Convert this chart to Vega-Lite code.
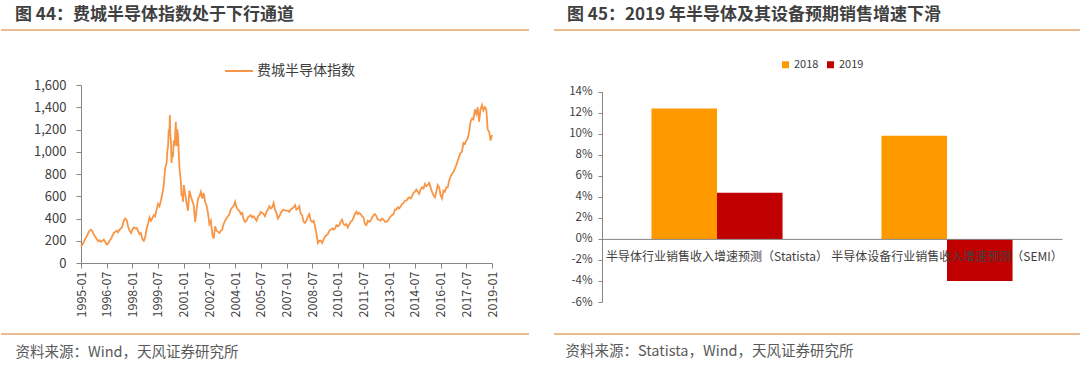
{
  "$schema": "https://vega.github.io/schema/vega-lite/v6.json",
  "background": "white",
  "padding": {"top": 4, "left": 0, "right": 0, "bottom": 0},
  "spacing": 25,
  "bounds": "flush",
  "resolve": {"scale": {"color": "independent"}, "legend": {"color": "independent"}},
  "config": {"font": "Noto Sans CJK SC"},
  "hconcat": [
    {
      "width": 528,
      "height": 304,
      "view": {"stroke": "#E9A46C", "strokeWidth": 1.5, "strokeDash": [528, 304]},
      "title": {"text": "图 44：费城半导体指数处于下行通道", "anchor": "start", "frame": "group", "dx": 14, "offset": -10.5, "baseline": "bottom", "fontSize": 17, "fontWeight": "bold", "color": "#404040"},
      "data": {"values": [
        {"d": "1995-01-01", "v": 150}, {"d": "1995-02-01", "v": 165}, {"d": "1995-03-01", "v": 190}, {"d": "1995-04-01", "v": 215}, {"d": "1995-05-01", "v": 240}, {"d": "1995-06-01", "v": 265}, {"d": "1995-07-01", "v": 290}, {"d": "1995-08-01", "v": 300}, {"d": "1995-09-01", "v": 285}, {"d": "1995-10-01", "v": 255}, {"d": "1995-11-01", "v": 235}, {"d": "1995-12-01", "v": 215},
        {"d": "1996-01-01", "v": 195}, {"d": "1996-02-01", "v": 205}, {"d": "1996-03-01", "v": 190}, {"d": "1996-04-01", "v": 200}, {"d": "1996-05-01", "v": 210}, {"d": "1996-06-01", "v": 190}, {"d": "1996-07-01", "v": 165}, {"d": "1996-08-01", "v": 175}, {"d": "1996-09-01", "v": 200}, {"d": "1996-10-01", "v": 215}, {"d": "1996-11-01", "v": 245}, {"d": "1996-12-01", "v": 270},
        {"d": "1997-01-01", "v": 280}, {"d": "1997-02-01", "v": 290}, {"d": "1997-03-01", "v": 275}, {"d": "1997-04-01", "v": 300}, {"d": "1997-05-01", "v": 310}, {"d": "1997-06-01", "v": 330}, {"d": "1997-07-01", "v": 380}, {"d": "1997-08-01", "v": 400}, {"d": "1997-09-01", "v": 385}, {"d": "1997-10-01", "v": 330}, {"d": "1997-11-01", "v": 290}, {"d": "1997-12-01", "v": 270},
        {"d": "1998-01-01", "v": 300}, {"d": "1998-02-01", "v": 320}, {"d": "1998-03-01", "v": 310}, {"d": "1998-04-01", "v": 315}, {"d": "1998-05-01", "v": 290}, {"d": "1998-06-01", "v": 260}, {"d": "1998-07-01", "v": 270}, {"d": "1998-08-01", "v": 215}, {"d": "1998-09-01", "v": 200}, {"d": "1998-10-01", "v": 230}, {"d": "1998-11-01", "v": 310}, {"d": "1998-12-01", "v": 350},
        {"d": "1999-01-01", "v": 410}, {"d": "1999-02-01", "v": 380}, {"d": "1999-03-01", "v": 400}, {"d": "1999-04-01", "v": 430}, {"d": "1999-05-01", "v": 420}, {"d": "1999-06-01", "v": 480}, {"d": "1999-07-01", "v": 530}, {"d": "1999-08-01", "v": 510}, {"d": "1999-09-01", "v": 560}, {"d": "1999-10-01", "v": 620}, {"d": "1999-11-01", "v": 700}, {"d": "1999-12-01", "v": 850},
        {"d": "2000-01-01", "v": 900}, {"d": "2000-01-15", "v": 1000}, {"d": "2000-02-01", "v": 1050}, {"d": "2000-02-15", "v": 1200}, {"d": "2000-03-01", "v": 1180}, {"d": "2000-03-10", "v": 1330}, {"d": "2000-03-20", "v": 1150}, {"d": "2000-04-01", "v": 1100}, {"d": "2000-04-15", "v": 900}, {"d": "2000-05-01", "v": 1000}, {"d": "2000-05-15", "v": 950}, {"d": "2000-06-01", "v": 1100}, {"d": "2000-06-15", "v": 1050}, {"d": "2000-07-01", "v": 1150}, {"d": "2000-07-15", "v": 1270}, {"d": "2000-08-01", "v": 1050}, {"d": "2000-08-15", "v": 1200}, {"d": "2000-09-01", "v": 1150}, {"d": "2000-09-15", "v": 1000}, {"d": "2000-10-01", "v": 850}, {"d": "2000-10-15", "v": 800}, {"d": "2000-11-01", "v": 720}, {"d": "2000-11-15", "v": 600}, {"d": "2000-12-01", "v": 620}, {"d": "2000-12-15", "v": 550},
        {"d": "2001-01-01", "v": 700}, {"d": "2001-02-01", "v": 620}, {"d": "2001-03-01", "v": 540}, {"d": "2001-04-01", "v": 470}, {"d": "2001-05-01", "v": 650}, {"d": "2001-06-01", "v": 600}, {"d": "2001-07-01", "v": 560}, {"d": "2001-08-01", "v": 520}, {"d": "2001-09-01", "v": 370}, {"d": "2001-10-01", "v": 480}, {"d": "2001-11-01", "v": 580}, {"d": "2001-12-01", "v": 600},
        {"d": "2002-01-01", "v": 640}, {"d": "2002-02-01", "v": 580}, {"d": "2002-03-01", "v": 630}, {"d": "2002-04-01", "v": 550}, {"d": "2002-05-01", "v": 520}, {"d": "2002-06-01", "v": 450}, {"d": "2002-07-01", "v": 350}, {"d": "2002-08-01", "v": 380}, {"d": "2002-09-01", "v": 260}, {"d": "2002-10-01", "v": 220}, {"d": "2002-11-01", "v": 330}, {"d": "2002-12-01", "v": 290},
        {"d": "2003-01-01", "v": 280}, {"d": "2003-02-01", "v": 270}, {"d": "2003-03-01", "v": 290}, {"d": "2003-04-01", "v": 300}, {"d": "2003-05-01", "v": 350}, {"d": "2003-06-01", "v": 380}, {"d": "2003-07-01", "v": 400}, {"d": "2003-08-01", "v": 420}, {"d": "2003-09-01", "v": 440}, {"d": "2003-10-01", "v": 480}, {"d": "2003-11-01", "v": 500}, {"d": "2003-12-01", "v": 510},
        {"d": "2004-01-01", "v": 550}, {"d": "2004-02-01", "v": 500}, {"d": "2004-03-01", "v": 480}, {"d": "2004-04-01", "v": 470}, {"d": "2004-05-01", "v": 440}, {"d": "2004-06-01", "v": 450}, {"d": "2004-07-01", "v": 390}, {"d": "2004-08-01", "v": 370}, {"d": "2004-09-01", "v": 380}, {"d": "2004-10-01", "v": 410}, {"d": "2004-11-01", "v": 420}, {"d": "2004-12-01", "v": 430},
        {"d": "2005-01-01", "v": 410}, {"d": "2005-02-01", "v": 420}, {"d": "2005-03-01", "v": 400}, {"d": "2005-04-01", "v": 380}, {"d": "2005-05-01", "v": 420}, {"d": "2005-06-01", "v": 430}, {"d": "2005-07-01", "v": 460}, {"d": "2005-08-01", "v": 450}, {"d": "2005-09-01", "v": 440}, {"d": "2005-10-01", "v": 420}, {"d": "2005-11-01", "v": 460}, {"d": "2005-12-01", "v": 480},
        {"d": "2006-01-01", "v": 510}, {"d": "2006-02-01", "v": 490}, {"d": "2006-03-01", "v": 500}, {"d": "2006-04-01", "v": 540}, {"d": "2006-05-01", "v": 480}, {"d": "2006-06-01", "v": 450}, {"d": "2006-07-01", "v": 400}, {"d": "2006-08-01", "v": 420}, {"d": "2006-09-01", "v": 450}, {"d": "2006-10-01", "v": 470}, {"d": "2006-11-01", "v": 480}, {"d": "2006-12-01", "v": 470},
        {"d": "2007-01-01", "v": 470}, {"d": "2007-02-01", "v": 470}, {"d": "2007-03-01", "v": 460}, {"d": "2007-04-01", "v": 480}, {"d": "2007-05-01", "v": 490}, {"d": "2007-06-01", "v": 500}, {"d": "2007-07-01", "v": 520}, {"d": "2007-08-01", "v": 480}, {"d": "2007-09-01", "v": 490}, {"d": "2007-10-01", "v": 510}, {"d": "2007-11-01", "v": 440}, {"d": "2007-12-01", "v": 430},
        {"d": "2008-01-01", "v": 370}, {"d": "2008-02-01", "v": 360}, {"d": "2008-03-01", "v": 380}, {"d": "2008-04-01", "v": 420}, {"d": "2008-05-01", "v": 440}, {"d": "2008-06-01", "v": 380}, {"d": "2008-07-01", "v": 370}, {"d": "2008-08-01", "v": 380}, {"d": "2008-09-01", "v": 330}, {"d": "2008-10-01", "v": 260}, {"d": "2008-11-01", "v": 180}, {"d": "2008-12-01", "v": 200},
        {"d": "2009-01-01", "v": 200}, {"d": "2009-02-01", "v": 180}, {"d": "2009-03-01", "v": 210}, {"d": "2009-04-01", "v": 240}, {"d": "2009-05-01", "v": 250}, {"d": "2009-06-01", "v": 260}, {"d": "2009-07-01", "v": 290}, {"d": "2009-08-01", "v": 300}, {"d": "2009-09-01", "v": 310}, {"d": "2009-10-01", "v": 300}, {"d": "2009-11-01", "v": 310}, {"d": "2009-12-01", "v": 340},
        {"d": "2010-01-01", "v": 330}, {"d": "2010-02-01", "v": 340}, {"d": "2010-03-01", "v": 370}, {"d": "2010-04-01", "v": 390}, {"d": "2010-05-01", "v": 350}, {"d": "2010-06-01", "v": 340}, {"d": "2010-07-01", "v": 350}, {"d": "2010-08-01", "v": 320}, {"d": "2010-09-01", "v": 350}, {"d": "2010-10-01", "v": 370}, {"d": "2010-11-01", "v": 380}, {"d": "2010-12-01", "v": 410},
        {"d": "2011-01-01", "v": 440}, {"d": "2011-02-01", "v": 460}, {"d": "2011-03-01", "v": 440}, {"d": "2011-04-01", "v": 450}, {"d": "2011-05-01", "v": 440}, {"d": "2011-06-01", "v": 420}, {"d": "2011-07-01", "v": 410}, {"d": "2011-08-01", "v": 350}, {"d": "2011-09-01", "v": 340}, {"d": "2011-10-01", "v": 380}, {"d": "2011-11-01", "v": 370}, {"d": "2011-12-01", "v": 380},
        {"d": "2012-01-01", "v": 410}, {"d": "2012-02-01", "v": 430}, {"d": "2012-03-01", "v": 440}, {"d": "2012-04-01", "v": 420}, {"d": "2012-05-01", "v": 390}, {"d": "2012-06-01", "v": 390}, {"d": "2012-07-01", "v": 380}, {"d": "2012-08-01", "v": 400}, {"d": "2012-09-01", "v": 390}, {"d": "2012-10-01", "v": 370}, {"d": "2012-11-01", "v": 370}, {"d": "2012-12-01", "v": 380},
        {"d": "2013-01-01", "v": 400}, {"d": "2013-02-01", "v": 420}, {"d": "2013-03-01", "v": 430}, {"d": "2013-04-01", "v": 440}, {"d": "2013-05-01", "v": 480}, {"d": "2013-06-01", "v": 480}, {"d": "2013-07-01", "v": 500}, {"d": "2013-08-01", "v": 490}, {"d": "2013-09-01", "v": 510}, {"d": "2013-10-01", "v": 530}, {"d": "2013-11-01", "v": 540}, {"d": "2013-12-01", "v": 560},
        {"d": "2014-01-01", "v": 560}, {"d": "2014-02-01", "v": 580}, {"d": "2014-03-01", "v": 590}, {"d": "2014-04-01", "v": 580}, {"d": "2014-05-01", "v": 600}, {"d": "2014-06-01", "v": 630}, {"d": "2014-07-01", "v": 640}, {"d": "2014-08-01", "v": 660}, {"d": "2014-09-01", "v": 640}, {"d": "2014-10-01", "v": 620}, {"d": "2014-11-01", "v": 660}, {"d": "2014-12-01", "v": 680},
        {"d": "2015-01-01", "v": 670}, {"d": "2015-02-01", "v": 710}, {"d": "2015-03-01", "v": 690}, {"d": "2015-04-01", "v": 700}, {"d": "2015-05-01", "v": 720}, {"d": "2015-06-01", "v": 680}, {"d": "2015-07-01", "v": 640}, {"d": "2015-08-01", "v": 610}, {"d": "2015-09-01", "v": 590}, {"d": "2015-10-01", "v": 640}, {"d": "2015-11-01", "v": 700}, {"d": "2015-12-01", "v": 680},
        {"d": "2016-01-01", "v": 610}, {"d": "2016-02-01", "v": 580}, {"d": "2016-03-01", "v": 650}, {"d": "2016-04-01", "v": 640}, {"d": "2016-05-01", "v": 680}, {"d": "2016-06-01", "v": 680}, {"d": "2016-07-01", "v": 740}, {"d": "2016-08-01", "v": 780}, {"d": "2016-09-01", "v": 800}, {"d": "2016-10-01", "v": 820}, {"d": "2016-11-01", "v": 850}, {"d": "2016-12-01", "v": 880},
        {"d": "2017-01-01", "v": 920}, {"d": "2017-02-01", "v": 960}, {"d": "2017-03-01", "v": 990}, {"d": "2017-04-01", "v": 1000}, {"d": "2017-05-01", "v": 1080}, {"d": "2017-06-01", "v": 1070}, {"d": "2017-07-01", "v": 1100}, {"d": "2017-08-01", "v": 1120}, {"d": "2017-09-01", "v": 1180}, {"d": "2017-10-01", "v": 1270}, {"d": "2017-11-01", "v": 1300}, {"d": "2017-12-01", "v": 1290},
        {"d": "2018-01-01", "v": 1380}, {"d": "2018-02-01", "v": 1340}, {"d": "2018-03-01", "v": 1400}, {"d": "2018-04-01", "v": 1270}, {"d": "2018-05-01", "v": 1380}, {"d": "2018-06-01", "v": 1420}, {"d": "2018-07-01", "v": 1370}, {"d": "2018-08-01", "v": 1400}, {"d": "2018-09-01", "v": 1380}, {"d": "2018-10-01", "v": 1200}, {"d": "2018-11-01", "v": 1180}, {"d": "2018-12-01", "v": 1100},
        {"d": "2019-01-01", "v": 1150}
      ]},
      "mark": {"type": "line", "strokeWidth": 1.8},
      "encoding": {
        "x": {
          "field": "d", "type": "temporal",
          "scale": {"type": "utc", "nice": false, "range": [80, 491],
            "domain": [{"year": 1995, "month": 1, "date": 1, "utc": true}, {"year": 2019, "month": 1, "date": 1, "utc": true}]},
          "axis": {
            "values": [
              {"year": 1995, "month": 1, "date": 1, "utc": true}, {"year": 1996, "month": 7, "date": 1, "utc": true},
              {"year": 1998, "month": 1, "date": 1, "utc": true}, {"year": 1999, "month": 7, "date": 1, "utc": true},
              {"year": 2001, "month": 1, "date": 1, "utc": true}, {"year": 2002, "month": 7, "date": 1, "utc": true},
              {"year": 2004, "month": 1, "date": 1, "utc": true}, {"year": 2005, "month": 7, "date": 1, "utc": true},
              {"year": 2007, "month": 1, "date": 1, "utc": true}, {"year": 2008, "month": 7, "date": 1, "utc": true},
              {"year": 2010, "month": 1, "date": 1, "utc": true}, {"year": 2011, "month": 7, "date": 1, "utc": true},
              {"year": 2013, "month": 1, "date": 1, "utc": true}, {"year": 2014, "month": 7, "date": 1, "utc": true},
              {"year": 2016, "month": 1, "date": 1, "utc": true}, {"year": 2017, "month": 7, "date": 1, "utc": true},
              {"year": 2019, "month": 1, "date": 1, "utc": true}
            ],
            "labelExpr": "utcFormat(datum.value, '%Y-%m')",
            "labelAngle": 270, "labelFontSize": 12.5, "labelColor": "#404040", "labelPadding": 3,
            "offset": -71, "grid": false, "domainColor": "#868686", "tickColor": "#868686", "tickSize": 5,
            "labelOverlap": false, "labelFlush": false,
            "title": "资料来源：Wind，天风证券研究所",
            "titleX": 14, "titleY": 89, "titleAlign": "left", "titleBaseline": "middle", "titleAngle": 0,
            "titleFontSize": 14.5, "titleFontWeight": "normal", "titleColor": "#595959"
          }
        },
        "y": {
          "field": "v", "type": "quantitative",
          "scale": {"domain": [0, 1600], "range": [233, 55], "nice": false},
          "axis": {
            "values": [0, 200, 400, 600, 800, 1000, 1200, 1400, 1600], "format": ",d",
            "offset": -80, "grid": false, "domainColor": "#868686", "tickColor": "#868686", "tickSize": 5,
            "labelPadding": 10, "labelFontSize": 13, "labelColor": "#404040", "title": null
          }
        },
        "color": {
          "datum": "费城半导体指数",
          "scale": {"range": ["#F79646"]},
          "legend": {"orient": "none", "legendX": 223, "legendY": 26, "title": null, "padding": 0,
            "symbolType": "stroke", "symbolSize": 784, "symbolStrokeWidth": 2,
            "labelFontSize": 14, "labelColor": "#404040", "labelOffset": 3}
        }
      }
    },
    {
      "width": 527,
      "height": 304,
      "view": {"stroke": "#E9A46C", "strokeWidth": 1.5, "strokeDash": [527, 304]},
      "title": {"text": "图 45：2019 年半导体及其设备预期销售增速下滑", "anchor": "start", "frame": "group", "dx": 13, "offset": -10.5, "baseline": "bottom", "fontSize": 17, "fontWeight": "bold", "color": "#404040"},
      "data": {"values": [
        {"c": "半导体行业销售收入增速预测（Statista）", "y": "2018", "v": 0.124},
        {"c": "半导体行业销售收入增速预测（Statista）", "y": "2019", "v": 0.044},
        {"c": "半导体设备行业销售收入增速预测（SEMI）", "y": "2018", "v": 0.098},
        {"c": "半导体设备行业销售收入增速预测（SEMI）", "y": "2019", "v": -0.040}
      ]},
      "mark": {"type": "bar"},
      "encoding": {
        "x": {
          "field": "c", "type": "nominal", "sort": null,
          "scale": {"range": [48, 508], "paddingInner": 0.43, "paddingOuter": 0.215},
          "axis": {
            "offset": -95.1, "domainColor": "#868686", "ticks": false, "tickSize": 0,
            "labelAngle": 0, "labelPadding": 18, "labelBaseline": "middle", "labelFontSize": 12,
            "labelColor": "#404040", "labelLimit": 0, "zindex": 1,
            "title": "资料来源：Statista，Wind，天风证券研究所",
            "titleX": 11, "titleY": 113, "titleAlign": "left", "titleBaseline": "middle", "titleAngle": 0,
            "titleFontSize": 14.5, "titleFontWeight": "normal", "titleColor": "#595959"
          }
        },
        "xOffset": {"field": "y", "type": "nominal", "scale": {"paddingInner": 0, "paddingOuter": 0}},
        "y": {
          "field": "v", "type": "quantitative",
          "scale": {"domain": [-0.06, 0.14], "range": [272, 61.7], "nice": false, "zero": false},
          "axis": {
            "values": [-0.06, -0.04, -0.02, 0, 0.02, 0.04, 0.06, 0.08, 0.1, 0.12, 0.14],
            "format": ".0%", "labelExpr": "replace(datum.label, '−', '-')",
            "offset": -48, "grid": false, "domainColor": "#868686", "tickColor": "#868686", "tickSize": 4,
            "labelPadding": 6, "labelFontSize": 11.5, "labelColor": "#404040", "title": null
          }
        },
        "color": {
          "field": "y", "type": "nominal",
          "scale": {"range": ["#FF9900", "#C00000"]},
          "legend": {"orient": "none", "direction": "horizontal", "legendX": 226, "legendY": 29, "title": null, "padding": 0,
            "symbolType": "square", "symbolSize": 49, "symbolStrokeWidth": 0,
            "labelFontSize": 11, "labelColor": "#404040", "labelOffset": 3, "columnPadding": 6}
        }
      }
    }
  ]
}
